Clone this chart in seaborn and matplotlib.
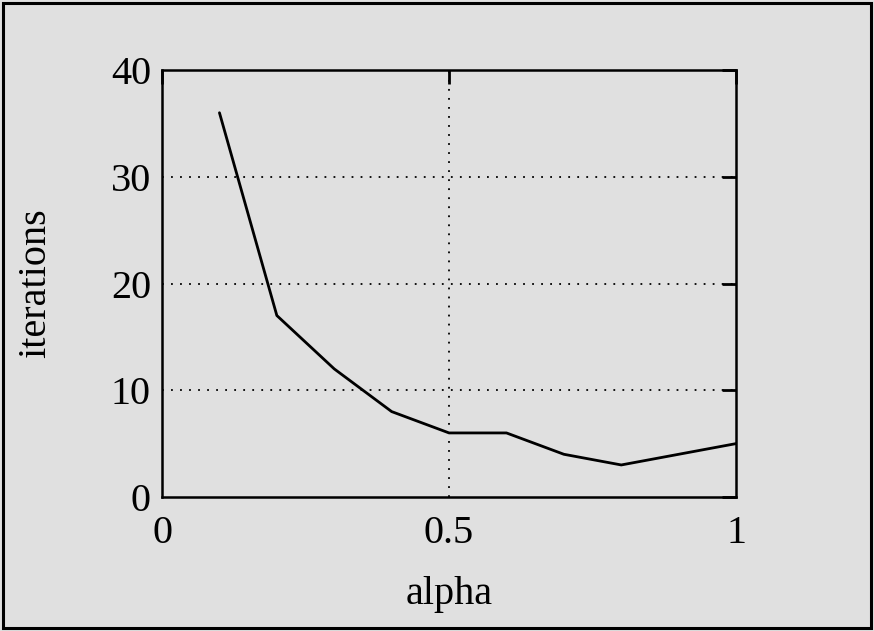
import matplotlib
matplotlib.use("Agg")
import matplotlib.pyplot as plt
import seaborn as sns
import pandas as pd
from matplotlib.patches import Rectangle

alpha = [0.1, 0.2, 0.3, 0.4, 0.5, 0.6, 0.7, 0.8, 0.9, 1.0]
iterations = [36, 17, 12, 8, 6, 6, 4, 3, 4, 5]
xticks = [0, 0.5, 1]
xticklabels = ["0", "0.5", "1"]
yticks = [0, 10, 20, 30, 40]

sns.set_theme(style="white")
plt.rcParams['font.family'] = ['Liberation Serif', 'DejaVu Serif']
bg = "#e0e0e0"

fig = plt.figure(figsize=(8.74, 6.31), dpi=100, facecolor=bg)
fig.patches.append(Rectangle((0.004, 0.004), 0.992, 0.991, transform=fig.transFigure,
                             fill=False, edgecolor="black", linewidth=2.2))
ax = fig.add_axes([0.1854, 0.2124, 0.6568, 0.6766])
ax.set_facecolor(bg)

df = pd.DataFrame({"alpha": alpha, "iterations": iterations})
sns.lineplot(data=df, x="alpha", y="iterations", ax=ax, color="black", linewidth=2.0)

ax.set_xlim(0, 1)
ax.set_ylim(0, 40)
ax.set_xticks(xticks)
ax.set_xticklabels(xticklabels)
ax.set_yticks(yticks)
for y in [10, 20, 30]:
    ax.axhline(y, color="black", linestyle=(0, (1, 4)), linewidth=1.3)
ax.axvline(0.5, color="black", linestyle=(0, (1, 4)), linewidth=1.3)

ax.tick_params(direction="in", length=10, width=2, labelsize=29,
               top=True, right=True, colors="black")
ax.tick_params(axis="x", pad=13)
ax.tick_params(axis="y", pad=8)
for s in ax.spines.values():
    s.set_color("black")
    s.set_linewidth(1.8)

ax.set_xlabel("alpha", fontsize=29, labelpad=17, color="black")
ax.set_ylabel("iterations", fontsize=29, color="black")
ax.yaxis.set_label_coords(-0.221, 0.5)
ax.yaxis.label.set_verticalalignment("center")

fig.savefig("out.png", dpi=100, facecolor=bg)
